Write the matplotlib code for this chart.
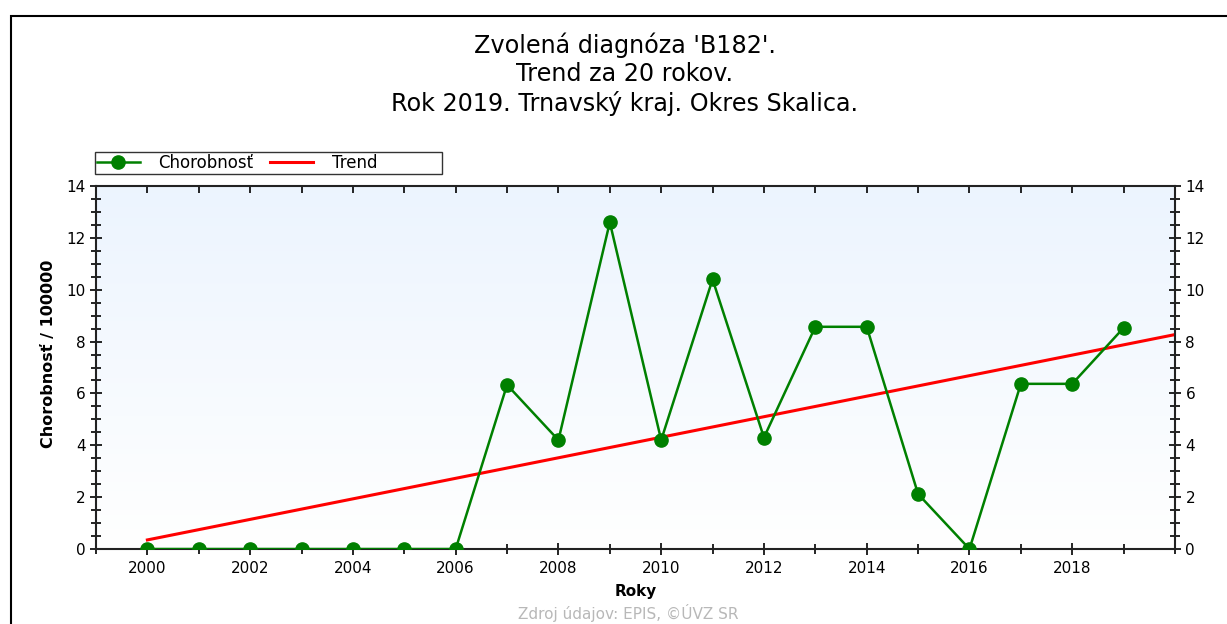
import matplotlib.pyplot as plt
import numpy as np
from matplotlib.patches import Rectangle
from matplotlib.ticker import MultipleLocator

plt.rcParams['font.family'] = ['DejaVu Sans']

# data
years = [2000, 2001, 2002, 2003, 2004, 2005, 2006, 2007, 2008, 2009,
         2010, 2011, 2012, 2013, 2014, 2015, 2016, 2017, 2018, 2019]
chorobnost = [0, 0, 0, 0, 0, 0, 0, 6.33, 4.2, 12.6,
              4.2, 10.4, 4.3, 8.57, 8.57, 2.12, 0, 6.37, 6.37, 8.53]
trend_years = [2000, 2020]
trend_vals = [0.35, 8.27]

title_lines = ["Zvolená diagnóza 'B182'.", "Trend za 20 rokov.",
               "Rok 2019. Trnavský kraj. Okres Skalica."]

W, H = 1227, 624
fig = plt.figure(figsize=(W / 100, H / 100), dpi=100)

# outer frame (left + top visible)
fig.patches.append(Rectangle((11 / W, -0.1), 1.2, 1 - 16 / H + 0.1,
                             transform=fig.transFigure, fill=False,
                             edgecolor='black', linewidth=1.5))

ax = fig.add_axes([96 / W, 1 - 549 / H, (1175 - 96) / W, (549 - 186) / H])

# background gradient
grad = np.linspace(0, 1, 256).reshape(-1, 1)
top = np.array([0.925, 0.957, 0.996])
bot = np.array([1.0, 1.0, 1.0])
img = bot + (top - bot) * grad
img = img.reshape(256, 1, 3)
ax.imshow(img, extent=[0, 1, 0, 1], transform=ax.transAxes, origin='lower',
          aspect='auto', zorder=0)

ax.plot(trend_years, trend_vals, color='#ff0000', lw=2.2, zorder=2, label='Trend')
ax.plot(years, chorobnost, color='#008000', lw=1.8, marker='o', ms=9.5,
        zorder=3, label='Chorobnosť')

ax.set_xlim(1999, 2020)
ax.set_ylim(0, 14)
ax.xaxis.set_major_locator(MultipleLocator(2))
ax.xaxis.set_minor_locator(MultipleLocator(1))
ax.yaxis.set_major_locator(MultipleLocator(2))
ax.yaxis.set_minor_locator(MultipleLocator(0.5))

ax.tick_params(axis='y', which='both', direction='inout', left=True, right=True,
               labelleft=True, labelright=True, labelsize=11, pad=3)
ax.tick_params(axis='y', which='major', length=9, width=1.2)
ax.tick_params(axis='y', which='minor', length=7, width=1.2)
ax.tick_params(axis='x', which='both', direction='inout', top=False,
               labelsize=11, pad=4)
ax.tick_params(axis='x', which='major', length=9, width=1.2)
ax.tick_params(axis='x', which='minor', length=7, width=1.2)
ax.set_xticks(np.arange(2000, 2020, 2))

sec = ax.secondary_xaxis('top')
sec.xaxis.set_major_locator(MultipleLocator(1))
sec.tick_params(axis='x', direction='in', length=5, width=1.2, labeltop=False)
sec.spines['top'].set_visible(False)

for s in ax.spines.values():
    s.set_linewidth(1.5)
    s.set_color('#222222')

ax.set_xlabel('Roky', fontsize=11, fontweight='bold', labelpad=6)
ax.set_ylabel('Chorobnosť / 100000', fontsize=11.5, fontweight='bold')
ax.yaxis.set_label_coords(-0.037, 0.537)

handles, labels = ax.get_legend_handles_labels()
labels = [labels[1], labels[0] + '            ']
leg = ax.legend(handles[::-1], labels, ncol=2, loc='lower left',
                bbox_to_anchor=(-0.001, 1.034), fontsize=12, frameon=True,
                fancybox=False, edgecolor='black', borderpad=0.1,
                handlelength=2.6, columnspacing=1.0, handletextpad=1.1,
                borderaxespad=0)
leg.get_frame().set_linewidth(1.0)

ys = [45, 74, 103]
for t, y in zip(title_lines, ys):
    fig.text(625 / W, 1 - y / H, t, ha='center', va='center', fontsize=17.2)

fig.text(628 / W, 1 - 622 / H, 'Zdroj údajov: EPIS, ©ÚVZ SR', ha='center',
         va='bottom', fontsize=11, color='#b8b8b8')

fig.savefig('out.png', dpi=100)
